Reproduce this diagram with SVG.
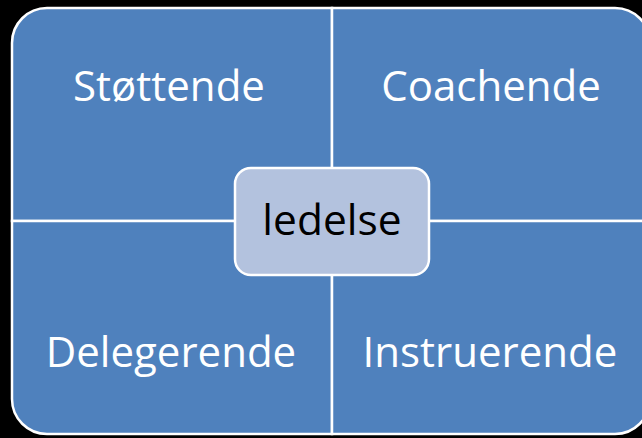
<svg xmlns="http://www.w3.org/2000/svg" width="642" height="438" viewBox="0 0 642 438">
  <style>
    .quad { fill: #4F81BD; stroke: #FFFFFF; stroke-width: 2.5; }
    .label { font-family: "Open Sans", "Noto Sans", sans-serif; font-size: 42px; fill: #FFFFFF; text-anchor: middle; }
    .center { fill: #B3C2DE; stroke: #FFFFFF; stroke-width: 2.5; }
    .centerLabel { font-family: "Open Sans", "Noto Sans", sans-serif; font-size: 42.5px; fill: #000000; text-anchor: middle; }
  </style>
  <rect x="0" y="0" width="642" height="438" fill="#000000"/>
  <g id="stottende">
    <path class="quad" d="M12,221 V43 A35,35 0 0 1 47,8 H332 V221 Z"/>
    <text class="label" x="169" y="101">Støttende</text>
  </g>
  <g id="coachende">
    <path class="quad" d="M332,8 H615 A35,35 0 0 1 650,43 V221 H332 Z"/>
    <text class="label" x="491" y="101">Coachende</text>
  </g>
  <g id="delegerende">
    <path class="quad" d="M12,221 H332 V434 H47 A35,35 0 0 1 12,399 Z"/>
    <text class="label" x="171" y="367">Delegerende</text>
  </g>
  <g id="instruerende">
    <path class="quad" d="M332,221 H650 V399 A35,35 0 0 1 615,434 H332 Z"/>
    <text class="label" x="490" y="367">Instruerende</text>
  </g>
  <g id="connectors"></g>
  <g id="ledelse">
    <rect class="center" x="235" y="168" width="194" height="107" rx="16" ry="16"/>
    <text class="centerLabel" x="332" y="235">ledelse</text>
  </g>
</svg>
